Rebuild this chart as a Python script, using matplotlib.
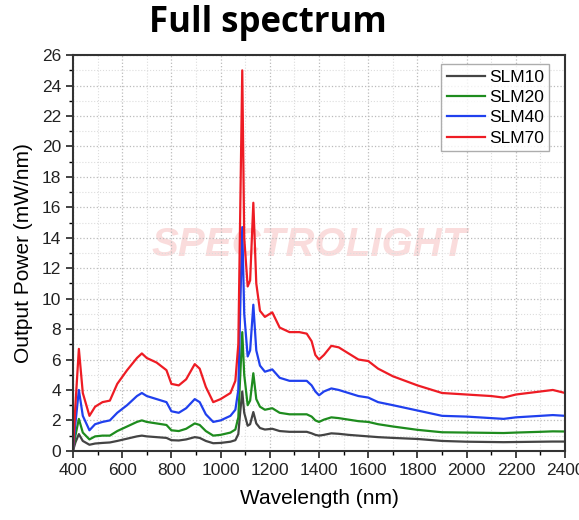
import numpy as np
import matplotlib
matplotlib.use("Agg")
import matplotlib.pyplot as plt
from matplotlib.ticker import MultipleLocator

# wavelength grid (nm) shared by all series
wavelength = [400, 410, 424, 440, 467, 490, 520, 550, 580, 620, 660, 680, 700, 740, 780,
              800, 830, 860, 895, 915, 940, 970, 1000, 1040, 1060, 1072, 1080, 1088, 1096,
              1110, 1120, 1133, 1145, 1160, 1180, 1210, 1240, 1280, 1320, 1350, 1370, 1385,
              1400, 1420, 1450, 1480, 1520, 1560, 1600, 1640, 1700, 1800, 1900, 2000, 2100,
              2150, 2200, 2300, 2350, 2400]

# output power (mW/nm)
slm10 = [0, 0.55, 1.1, 0.65, 0.4, 0.48, 0.52, 0.55, 0.65, 0.8, 0.95, 1.0, 0.95, 0.9, 0.85,
         0.7, 0.68, 0.75, 0.9, 0.85, 0.65, 0.5, 0.52, 0.6, 0.7, 1.1, 2.6, 3.9, 2.5,
         1.65, 1.75, 2.55, 1.8, 1.5, 1.4, 1.45, 1.3, 1.25, 1.25, 1.25, 1.15, 1.05,
         1.0, 1.05, 1.15, 1.12, 1.05, 1.0, 0.95, 0.9, 0.85, 0.78, 0.65, 0.6, 0.58,
         0.57, 0.58, 0.6, 0.61, 0.61]
slm20 = [0, 1.0, 2.1, 1.2, 0.75, 0.95, 1.0, 1.0, 1.3, 1.6, 1.9, 2.0, 1.9, 1.8, 1.7,
         1.35, 1.3, 1.45, 1.8, 1.7, 1.3, 1.0, 1.05, 1.2, 1.4, 2.2, 5.0, 7.8, 5.0,
         3.0, 3.3, 5.1, 3.4, 2.9, 2.7, 2.8, 2.5, 2.4, 2.4, 2.4, 2.25, 2.0,
         1.9, 2.05, 2.2, 2.15, 2.05, 1.95, 1.9, 1.75, 1.6, 1.38, 1.22, 1.2, 1.18,
         1.17, 1.2, 1.25, 1.28, 1.27]
slm40 = [0, 1.8, 4.0, 2.3, 1.35, 1.75, 1.9, 2.0, 2.5, 3.0, 3.6, 3.8, 3.6, 3.4, 3.2,
         2.6, 2.5, 2.8, 3.4, 3.2, 2.4, 1.9, 2.0, 2.3, 2.7, 4.0, 9.5, 14.7, 9.0,
         6.2, 6.6, 9.6, 6.6, 5.6, 5.2, 5.35, 4.8, 4.6, 4.6, 4.6, 4.3, 3.9,
         3.65, 3.9, 4.1, 4.0, 3.8, 3.6, 3.5, 3.2, 3.0, 2.65, 2.3, 2.25, 2.15,
         2.1, 2.2, 2.3, 2.35, 2.3]
slm70 = [0, 3.0, 6.7, 3.8, 2.3, 2.9, 3.2, 3.3, 4.4, 5.3, 6.1, 6.4, 6.1, 5.8, 5.3,
         4.4, 4.3, 4.7, 5.7, 5.4, 4.2, 3.2, 3.4, 3.8, 4.6, 7.0, 16.0, 25.0, 14.0,
         10.8, 11.2, 16.3, 11.0, 9.2, 8.8, 9.1, 8.1, 7.8, 7.8, 7.7, 7.2, 6.3,
         6.0, 6.3, 6.9, 6.8, 6.4, 6.0, 5.9, 5.4, 4.9, 4.3, 3.8, 3.7, 3.6,
         3.5, 3.7, 3.9, 4.0, 3.8]

series = [("SLM10", slm10, "#444444"),
          ("SLM20", slm20, "#1e8c1e"),
          ("SLM40", slm40, "#2040ee"),
          ("SLM70", slm70, "#ee1c24")]

plt.rcParams['font.family'] = ['Liberation Sans', 'DejaVu Sans']

fig = plt.figure(figsize=(5.79, 5.20), dpi=100)
ax = fig.add_axes([0.126, 0.133, 0.850, 0.761])

for name, vals, col in series:
    ax.plot(wavelength, vals, color=col, lw=1.6, label=name)

ax.set_xlim(400, 2400)
ax.set_ylim(0, 26)
ax.xaxis.set_major_locator(MultipleLocator(200))
ax.xaxis.set_minor_locator(MultipleLocator(100))
ax.yaxis.set_major_locator(MultipleLocator(2))
ax.yaxis.set_minor_locator(MultipleLocator(1))
ax.grid(True, which='major', color='#bbbbbb', ls=':', lw=0.9)
ax.grid(True, which='minor', color='#dddddd', ls=':', lw=0.8)
ax.tick_params(which='major', direction='out', length=5, width=1.2, labelsize=12.5, colors='#222222')
ax.tick_params(which='minor', direction='out', length=3, width=1.0)
for sp in ax.spines.values():
    sp.set_linewidth(1.5)
    sp.set_color('#333333')

ax.set_xlabel('Wavelength (nm)', fontsize=15, labelpad=8)
ax.set_ylabel('Output Power (mW/nm)', fontsize=15, labelpad=6)

# watermark
ax.text(0.48, 0.52, 'SPECTROLIGHT', transform=ax.transAxes, ha='center', va='center',
        fontsize=29, style='italic', fontweight='bold', color='#fadcdc', zorder=0)

fig.text(0.463, 0.956, 'Full spectrum', ha='center', va='center', fontsize=25,
         fontweight='bold', family=['Open Sans', 'DejaVu Sans'])

leg = ax.legend(loc='upper right', bbox_to_anchor=(0.968, 0.977), fontsize=12.5,
                frameon=True, fancybox=False, handlelength=2.2, handletextpad=0.25,
                labelspacing=0.3, borderpad=0.3, borderaxespad=0.0, edgecolor='#999999')
leg.get_frame().set_linewidth(1.0)

fig.savefig('out.png', dpi=100)
